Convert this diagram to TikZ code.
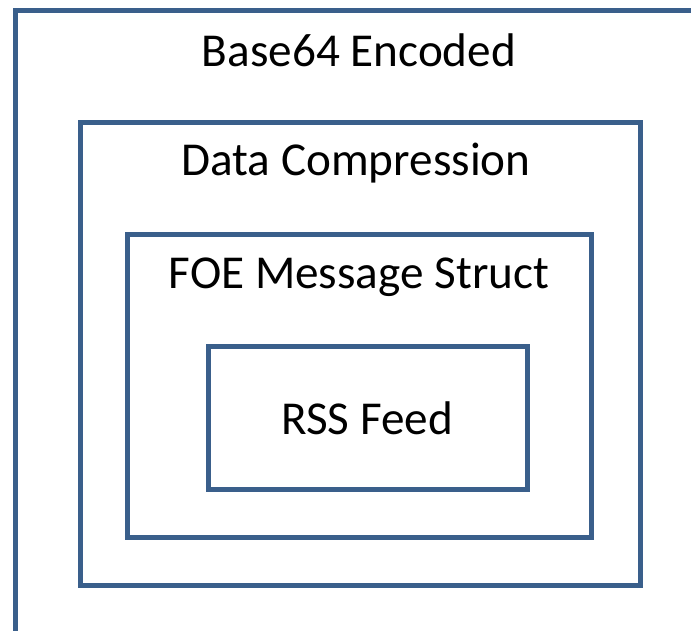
\documentclass[tikz,border=0pt]{standalone}
\usepackage{fontspec}
\setmainfont{Carlito}
\definecolor{boxblue}{HTML}{3A5F8B}
\begin{document}
\begin{tikzpicture}[x=1pt,y=-1pt,
  layer/.style={draw=boxblue,line width=5pt,fill=none,inner sep=0pt,outer sep=0pt,rectangle},
  lbl/.style={font=\fontsize{47.2}{50}\selectfont,anchor=base,inner sep=0pt,text=black}]
\clip (0,0) rectangle (691,630);
\node[layer,minimum width=700pt,minimum height=640pt] (outer) at (365.5,330) {};
\node[layer,minimum width=560pt,minimum height=463.5pt] (dc) at (360,353.75) {};
\node[layer,minimum width=464pt,minimum height=303pt] (foe) at (359.5,386) {};
\node[layer,minimum width=319pt,minimum height=143pt] (rss) at (368,418) {};
\node[lbl] (t1) at (359,66.5) {Base64 Encoded};
\node[lbl] (t2) at (356,175.5) {Data Compression};
\node[lbl] (t3) at (359,288) {FOE Message Struct};
\node[lbl] (t4) at (367,434) {RSS Feed};
\end{tikzpicture}
\end{document}
